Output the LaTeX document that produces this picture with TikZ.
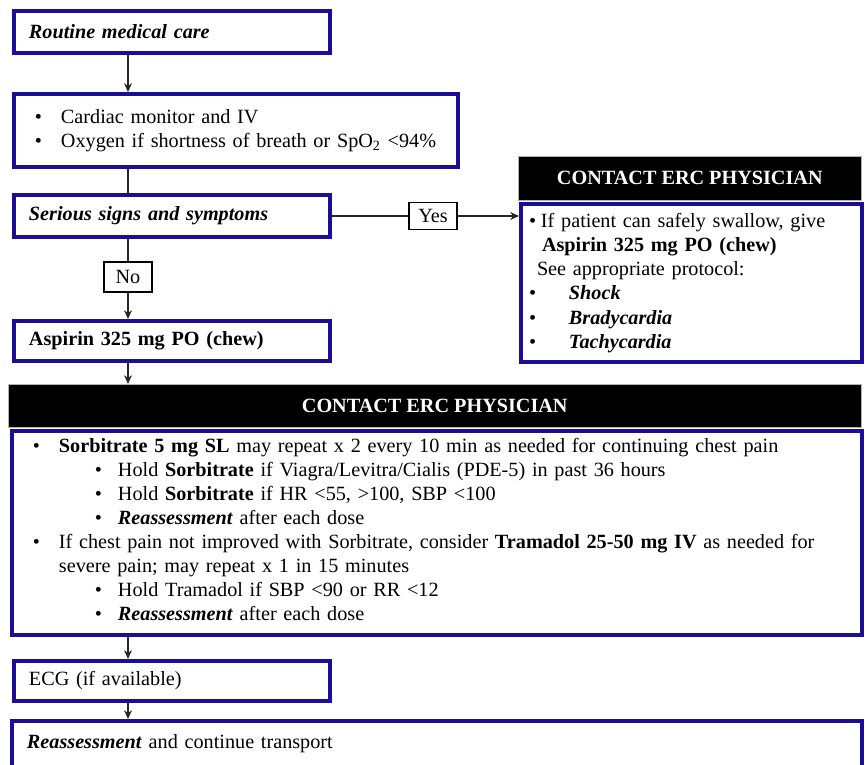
\documentclass[tikz,border=0pt]{standalone}
\usepackage{fontspec}
\setmainfont{Liberation Serif}
\usetikzlibrary{positioning,arrows.meta}

\definecolor{ercblue}{RGB}{26,14,150}
\newcommand{\bitem}[1]{\hspace*{0.12cm}\makebox[0.52cm][l]{\textbullet}#1}
\newcommand{\bsubitem}[1]{\hspace*{1.36cm}\makebox[0.46cm][l]{\textbullet}#1}
\newcommand{\bi}[1]{\textbf{\textit{#1}}}

\begin{document}
\begin{tikzpicture}[
        x=0.02cm, y=-0.02cm,
        >=Stealth,
        flow_box/.style={
            rectangle,
            draw=ercblue,
            line width=0.08cm,
            fill=white,
            anchor=north west,
            inner xsep=0.3cm,
            inner ysep=0pt,
            align=left,
            font=\fontsize{11.5}{13.7}\selectfont
        },
        header_bar/.style={
            rectangle,
            draw=gray!60,
            line width=0.4pt,
            fill=black,
            anchor=north west,
            inner sep=0pt,
            text=white,
            font=\fontsize{11.5}{13.7}\selectfont\bfseries
        },
        branch_label/.style={
            rectangle,
            draw=black,
            line width=0.6pt,
            fill=white,
            inner sep=0pt,
            minimum width=0.96cm,
            font=\fontsize{11.5}{13.7}\selectfont
        },
        flow_arrow/.style={-{Stealth[length=5pt,width=4.5pt]}, line width=0.7pt, black!85},
        flow_line/.style={line width=0.7pt, black!85}
    ]

    \useasboundingbox (0,0) rectangle (865,764);
    \clip (0,0) rectangle (865,764);
    \fill[white] (0,0) rectangle (865,764);

    % =================================================
    % MAIN COLUMN
    % =================================================

    \node[flow_box, text width=5.72cm, minimum height=0.84cm] (rmc) at (12,9) {\bi{Routine medical care}};
    \node[flow_box, text width=8.28cm, minimum height=1.46cm] (mon) at (12,92)
        {\bitem{Cardiac monitor and IV}\\
         \bitem{Oxygen if shortness of breath or SpO\textsubscript{2} <94\%}};
    \node[flow_box, text width=5.72cm, minimum height=0.84cm] (ssx) at (12,193) {\bi{Serious signs and symptoms}};
    \node[flow_box, text width=5.72cm, minimum height=0.80cm] (asp) at (12,319) {\textbf{Aspirin 325 mg PO (chew)}};

    % Yes / No labels
    \node[branch_label, minimum height=0.54cm] (yes) at (433,0 |- ssx.east) {Yes};
    \node[branch_label, minimum height=0.60cm] (no) at (128,277) {No};

    % =================================================
    % SERIOUS SIGNS BRANCH
    % =================================================

    \node[header_bar, minimum width=6.86cm, minimum height=0.88cm] (rh) at (518,156) {CONTACT ERC PHYSICIAN};
    \node[flow_box, inner xsep=0.16cm, text width=6.5cm, minimum height=3.16cm] (rb) at (519,202)
        {\makebox[0.24cm][l]{\textbullet}If patient can safely swallow, give\\
         \hspace*{0.26cm}\textbf{Aspirin 325 mg PO (chew)}\\
         \hspace*{0.16cm}See appropriate protocol:\\
         \makebox[0.8cm][l]{\textbullet}\bi{Shock}\\
         \makebox[0.8cm][l]{\textbullet}\bi{Bradycardia}\\
         \makebox[0.8cm][l]{\textbullet}\bi{Tachycardia}};

    % =================================================
    % PAIN MANAGEMENT
    % =================================================

    \node[header_bar, minimum width=17.06cm, minimum height=0.86cm] (bh) at (8,384) {CONTACT ERC PHYSICIAN};
    \node[flow_box, text width=16.4cm, text height=0.42cm, text depth=3.66cm] (bb) at (10,429)
        {\bitem{\textbf{Sorbitrate 5 mg SL} may repeat x 2 every 10 min as needed for continuing chest pain}\\
         \bsubitem{Hold \textbf{Sorbitrate} if Viagra/Levitra/Cialis (PDE-5) in past 36 hours}\\
         \bsubitem{Hold \textbf{Sorbitrate} if HR <55, >100, SBP <100}\\
         \bsubitem{\bi{Reassessment} after each dose}\\
         \bitem{If chest pain not improved with Sorbitrate, consider \textbf{Tramadol 25-50 mg IV} as needed for}\\
         \hspace*{0.64cm}severe pain; may repeat x 1 in 15 minutes\\
         \bsubitem{Hold Tramadol if SBP <90 or RR <12}\\
         \bsubitem{\bi{Reassessment} after each dose}};

    \node[flow_box, text width=5.72cm, minimum height=0.80cm] (ecg) at (12,659) {ECG (if available)};
    \node[flow_box, text width=16.4cm, inner ysep=0.24cm, text height=0.3cm, text depth=0.64cm] (last) at (10,719)
        {\bi{Reassessment} and continue transport};

    % =================================================
    % CONNECTORS
    % =================================================

    \coordinate (spine) at (128,0);
    \draw[flow_arrow] (rmc.south -| spine) -- (mon.north -| spine);
    \draw[flow_line] (mon.south -| spine) -- (ssx.north -| spine);
    \draw[flow_line] (ssx.east) -- (yes.west);
    \draw[flow_arrow] (yes.east) -- (yes.east -| rb.west);
    \draw[flow_line] (ssx.south -| spine) -- (no.north);
    \draw[flow_arrow] (no.south) -- (asp.north -| spine);
    \draw[flow_arrow] (asp.south -| spine) -- (bh.north -| spine);
    \draw[flow_arrow] (bb.south -| spine) -- (ecg.north -| spine);
    \draw[flow_arrow] (ecg.south -| spine) -- (last.north -| spine);

\end{tikzpicture}
\end{document}
